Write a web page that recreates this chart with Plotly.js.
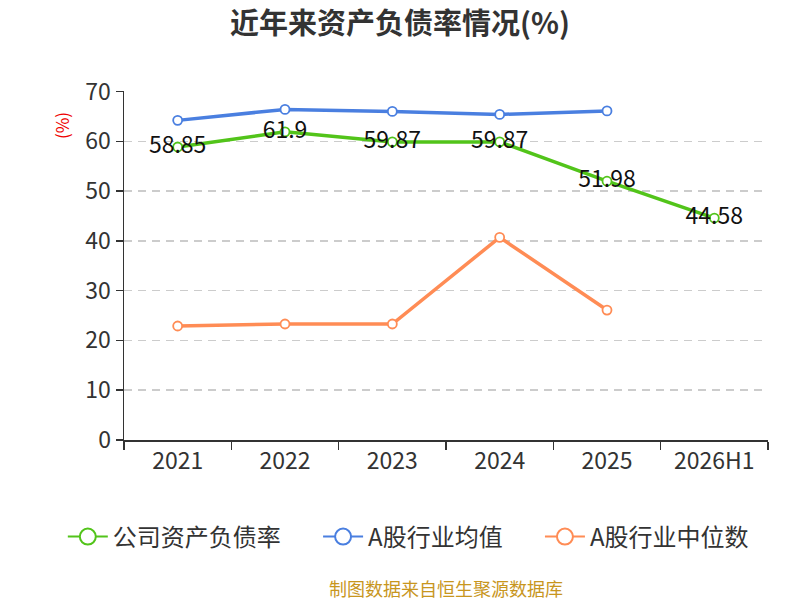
<!DOCTYPE html>
<html>
<head>
<meta charset="utf-8">
<script src="https://cdn.plot.ly/plotly-3.0.1.min.js"></script>
<style>
  body { margin: 0; background: #fff; }
  #chart { width: 800px; height: 600px; }
</style>
</head>
<body>
<div id="chart"></div>
<script>
const years = ['2021', '2022', '2023', '2024', '2025', '2026H1']
const companyRate = [58.85, 61.9, 59.87, 59.87, 51.98, 44.58]
const industryAvg = [64.2, 66.4, 66.0, 65.4, 66.1, null]
const industryMedian = [22.9, 23.3, 23.3, 40.7, 26.1, null]

const seriesNames = ['公司资产负债率', 'A股行业均值', 'A股行业中位数']
const seriesColors = ['#52c41a', '#4a7fe0', '#ff8c55']

const font = '"Noto Sans CJK SC", "Noto Sans", sans-serif'
const gap = '\u00a0\u00a0\u00a0\u00a0\u00a0\u00a0'

function lineTrace(name, y, color, withText) {
    const t = {
        type: 'scatter',
        mode: withText ? 'lines+markers+text' : 'lines+markers',
        name: name,
        x: years,
        y: y,
        showlegend: false,
        line: { color: color, width: 3.5 },
        marker: { symbol: 'circle', size: 9, color: '#fff', line: { color: color, width: 1.8 } },
        cliponaxis: false,
        hoverinfo: 'x+y'
    }
    if (withText) {
        t.text = y.map(v => String(v))
        t.textposition = 'middle center'
        t.textfont = { family: font, size: 23, color: '#111' }
    }
    return t
}

// legend entries only (bigger symbols than the plotted markers)
function legendTrace(name, color) {
    return {
        type: 'scatter',
        mode: 'lines+markers',
        name: name,
        x: [null],
        y: [null],
        line: { color: color, width: 2 },
        marker: { symbol: 'circle', size: 16, color: '#fff', line: { color: color, width: 2 } },
        hoverinfo: 'skip'
    }
}

const data = [
    lineTrace(seriesNames[1], industryAvg, seriesColors[1], false),
    lineTrace(seriesNames[2], industryMedian, seriesColors[2], false),
    lineTrace(seriesNames[0], companyRate, seriesColors[0], true),
    legendTrace(seriesNames[0] + gap, seriesColors[0]),
    legendTrace(seriesNames[1] + gap, seriesColors[1]),
    legendTrace(seriesNames[2], seriesColors[2])
]

const layout = {
    width: 800,
    height: 600,
    margin: { l: 124, r: 32, t: 91, b: 160 },
    paper_bgcolor: '#fff',
    plot_bgcolor: '#fff',
    font: { family: font, color: '#333' },
    title: {
        text: '<b>近年来资产负债率情况(%)</b>',
        font: { family: font, size: 29, color: '#333' },
        x: 0.5, xanchor: 'center',
        yref: 'container',
        y: 1 - 24 / 600, yanchor: 'middle'
    },
    xaxis: {
        type: 'category',
        categoryorder: 'array',
        categoryarray: years,
        range: [-0.5, 5.5],
        tickson: 'boundaries',
        ticks: 'outside',
        ticklen: 8,
        tickwidth: 1.5,
        tickcolor: '#333',
        showline: true,
        linecolor: '#333',
        linewidth: 1.5,
        showgrid: false,
        tickfont: { family: font, size: 23, color: '#333' },
        fixedrange: true
    },
    yaxis: {
        range: [0, 70.1],
        dtick: 10,
        ticks: 'outside',
        ticklen: 7,
        tickwidth: 1.5,
        tickcolor: '#333',
        showline: true,
        linecolor: '#333',
        linewidth: 1.5,
        showgrid: true,
        gridcolor: '#ccc',
        griddash: '8px,6px',
        gridwidth: 1.5,
        zeroline: false,
        tickfont: { family: font, size: 23, color: '#333' },
        fixedrange: true
    },
    legend: {
        orientation: 'h',
        x: -0.095, xanchor: 'left',
        y: -0.278, yanchor: 'middle',
        font: { family: font, size: 24, color: '#333' },
        traceorder: 'normal',
        itemwidth: 40
    },
    annotations: [
        {
            text: '(%)',
            xref: 'paper', yref: 'paper',
            x: -0.096, y: 0.9,
            xanchor: 'center', yanchor: 'middle',
            textangle: -90,
            showarrow: false,
            font: { family: font, size: 17, color: '#e00' }
        },
        {
            text: '制图数据来自恒生聚源数据库',
            xref: 'paper', yref: 'paper',
            x: 0.5, y: -0.425,
            xanchor: 'center', yanchor: 'middle',
            showarrow: false,
            font: { family: font, size: 18, color: '#c8961e' }
        }
    ],
    showlegend: true
}

Plotly.newPlot('chart', data, layout, { displayModeBar: false, staticPlot: true })
</script>
</body>
</html>
